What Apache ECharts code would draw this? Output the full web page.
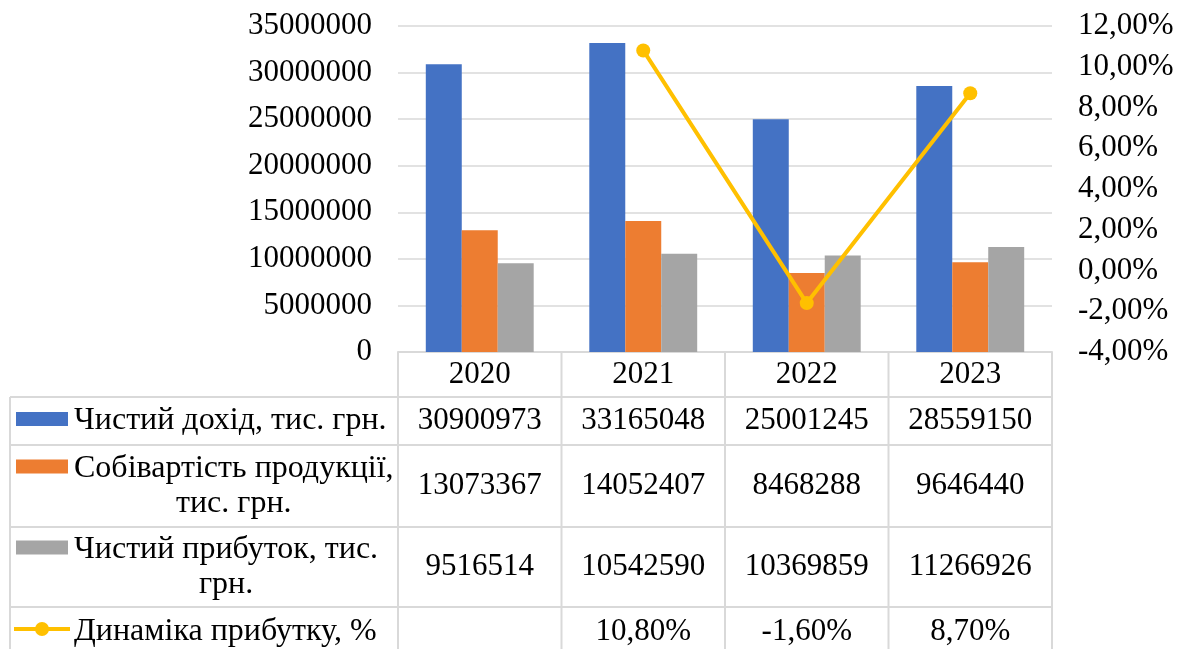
<!DOCTYPE html>
<html>
<head>
<meta charset="utf-8">
<script src="https://cdn.jsdelivr.net/npm/echarts@6/dist/echarts.min.js"></script>
<style>
  html, body { margin: 0; padding: 0; background: #fff; }
  #chart { width: 1186px; height: 649px; }
</style>
</head>
<body>
<div id="chart"></div>
<script>
// Financial indicators by year
const years = ['2020', '2021', '2022', '2023'];
const netIncome = [30900973, 33165048, 25001245, 28559150];
const costOfProduction = [13073367, 14052407, 8468288, 9646440];
const netProfit = [9516514, 10542590, 10369859, 11266926];
const profitGrowth = [null, 10.8, -1.6, 8.7];

const seriesNames = [
  'Чистий дохід, тис. грн.',
  'Собівартість продукції,\nтис. грн.',
  'Чистий прибуток, тис.\nгрн.',
  'Динаміка прибутку, %'
];
const seriesColors = ['#4472C4', '#ED7D31', '#A5A5A5', '#FFC000'];

const FONT = "'Liberation Serif', 'Times New Roman', serif";
const FS = 31;       // numbers and axis labels
const FS_NAME = 32;  // series names in the table
const GRID_COLOR = '#D9D9D9';

const fmtPct = v => v.toFixed(2).replace('.', ',') + '%';

const chart = echarts.init(document.getElementById('chart'), null, { renderer: 'canvas' });

const grid = { left: 398, right: 134, top: 26, bottom: 297 };

const option = {
  animation: false,
  backgroundColor: '#fff',
  textStyle: { fontFamily: FONT },
  grid: grid,
  xAxis: {
    type: 'category',
    data: years,
    axisLine: { show: true, lineStyle: { color: GRID_COLOR, width: 2 } },
    axisTick: { show: false },
    axisLabel: { color: '#000', fontFamily: FONT, fontSize: FS, margin: 23, verticalAlign: 'middle' }
  },
  yAxis: [
    {
      type: 'value', min: 0, max: 35000000, interval: 5000000,
      axisLine: { show: false }, axisTick: { show: false },
      splitLine: { lineStyle: { color: GRID_COLOR, width: 1.5 } },
      axisLabel: { color: '#000', fontFamily: FONT, fontSize: FS, margin: 26, formatter: v => String(v) }
    },
    {
      type: 'value', min: -4, max: 12, interval: 2,
      axisLine: { show: false }, axisTick: { show: false },
      splitLine: { show: false },
      axisLabel: { color: '#000', fontFamily: FONT, fontSize: FS, margin: 26, formatter: fmtPct }
    }
  ],
  series: [
    { name: seriesNames[0], type: 'bar', data: netIncome, itemStyle: { color: seriesColors[0] }, barGap: '0%', barCategoryGap: '34%' },
    { name: seriesNames[1], type: 'bar', data: costOfProduction, itemStyle: { color: seriesColors[1] } },
    { name: seriesNames[2], type: 'bar', data: netProfit, itemStyle: { color: seriesColors[2] } },
    {
      name: seriesNames[3], type: 'line', yAxisIndex: 1, data: profitGrowth,
      symbol: 'circle', symbolSize: 14, connectNulls: false,
      lineStyle: { color: seriesColors[3], width: 4 },
      itemStyle: { color: seriesColors[3] }, z: 5
    }
  ]
};
chart.setOption(option);

// ---- data table under the plot ----
const W = 1186;
const plotL = grid.left, plotR = W - grid.right;
const colW = (plotR - plotL) / years.length;
const tableL = 10;
const rowLines = [352, 397, 445, 527, 607, 657];
const tableRows = [netIncome, costOfProduction, netProfit, profitGrowth];
const cellText = (r, v) => v == null ? '' : (r === 3 ? fmtPct(v) : String(v));

const ctx = document.createElement('canvas').getContext('2d');
ctx.font = FS_NAME + 'px ' + FONT;
const textWidth = s => Math.max(...s.split('\n').map(l => ctx.measureText(l).width));

const g = [];
const line = (x1, y1, x2, y2) => g.push({
  type: 'line', silent: true, z: 10,
  shape: { x1, y1, x2, y2 },
  style: { stroke: GRID_COLOR, lineWidth: 2 }
});

// horizontal rules
for (let i = 1; i < rowLines.length - 1; i++) line(tableL, rowLines[i], plotR, rowLines[i]);
// vertical rules
line(tableL, rowLines[1], tableL, rowLines[rowLines.length - 1]);
for (let c = 0; c <= years.length; c++) {
  const x = plotL + c * colW;
  line(x, rowLines[0], x, rowLines[rowLines.length - 1]);
}

const textLeft = 74;
tableRows.forEach((vals, r) => {
  const yTop = rowLines[r + 1], yBot = rowLines[r + 2];
  const yc = (yTop + yBot) / 2;
  const nLines = seriesNames[r].split('\n').length;
  const lh = 35;
  const firstLineY = yc - (nLines - 1) * lh / 2;

  // legend key
  if (r < 3) {
    g.push({ type: 'rect', silent: true, z: 11,
      shape: { x: 16, y: firstLineY - 9, width: 52, height: 14 },
      style: { fill: seriesColors[r] } });
  } else {
    g.push({ type: 'line', silent: true, z: 11,
      shape: { x1: 14, y1: firstLineY - 3, x2: 70, y2: firstLineY - 3 },
      style: { stroke: seriesColors[r], lineWidth: 4 } });
    g.push({ type: 'circle', silent: true, z: 12,
      shape: { cx: 42, cy: firstLineY - 3, r: 7 },
      style: { fill: seriesColors[r] } });
  }

  // series name, lines centred within the block
  const tw = textWidth(seriesNames[r]);
  g.push({ type: 'text', silent: true, z: 11,
    x: textLeft + tw / 2, y: yc,
    style: { text: seriesNames[r], font: FS_NAME + 'px ' + FONT, fill: '#000',
      align: 'center', verticalAlign: 'middle', lineHeight: lh } });

  // values
  vals.forEach((v, c) => {
    const x = chart.convertToPixel({ xAxisIndex: 0 }, years[c]);
    g.push({ type: 'text', silent: true, z: 11,
      x: x, y: yc,
      style: { text: cellText(r, v), font: FS + 'px ' + FONT, fill: '#000',
        align: 'center', verticalAlign: 'middle' } });
  });
});

chart.setOption({ graphic: g });
</script>
</body>
</html>
